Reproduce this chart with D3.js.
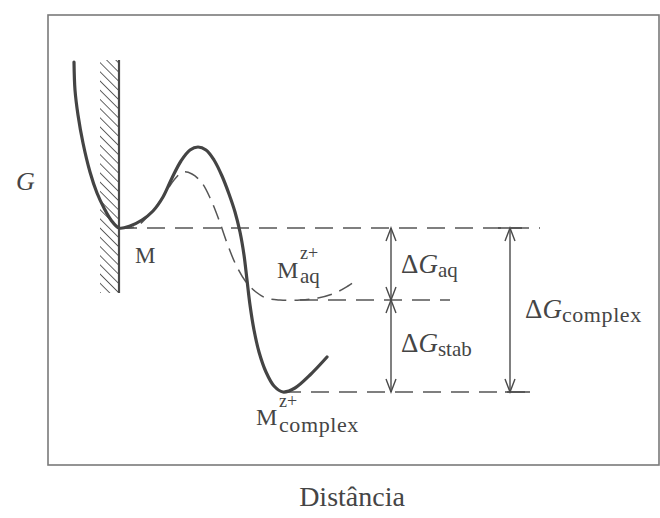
<!DOCTYPE html>
<html><head><meta charset="utf-8">
<script src="https://cdn.jsdelivr.net/npm/d3@7"></script>
<style>body{margin:0;background:#fff}svg{display:block}text{font-family:"Liberation Serif","DejaVu Serif",serif;fill:#454545}</style>
</head><body>
<script>
// Data (distance units, free-energy units; G increases upward)
const solidCurve = [[26,403],[27,375],[30,350],[35,322],[42,293],[49,272],[56,257],[63,245],[71,237],[82,239],[94,245],[105,254],[115,268],[124,287],[133,304],[142,315],[150,318],[158,315],[166,305],[174,289],[181,271],[187,253],[192,233],[196,210],[199,185],[202,160],[206,135],[211,113],[218,93],[226,79],[235,73],[247,77],[262,90],[279,108]];
const dashedCurve = [[71,237],[87,238],[102,251],[115,268],[126,285],[135,293],[144,291],[154,282],[163,265],[171,245],[179,222],[188,200],[198,183],[208,173],[218,167],[232,165],[252,165],[270,167],[287,172],[300,179],[309,185]];
const levels = {M: 237, aq: 165, complex: 73};
const levelSpans = [[71,492,"M"],[252,402,"aq"],[235,482,"complex"]];
const arrows = [[343,"M","aq"],[343,"aq","complex"],[462,"M","complex"]];
const wall = {x0:52, x1:71, yBottom:172, yTop:405};

const W=660,H=518;
const x=d3.scaleLinear().domain([0,609]).range([48,657]);
const y=d3.scaleLinear().domain([0,450]).range([465,15]);
const svg=d3.select("body").append("svg").attr("width",W).attr("height",H);
const ink="#4a4a4a";

// frame
svg.append("rect").attr("x",x(0)).attr("y",y(450)).attr("width",x(609)-x(0)+2).attr("height",y(0)-y(450))
  .attr("fill","none").attr("stroke","#7a7a7a").attr("stroke-width",1.6);

// hatched wall
const defs=svg.append("defs");
const pat=defs.append("pattern").attr("id","hatch").attr("patternUnits","userSpaceOnUse").attr("width",6.5).attr("height",6.5)
  .attr("patternTransform","rotate(-45)");
pat.append("line").attr("x1",0).attr("y1",0).attr("x2",0).attr("y2",6.5).attr("stroke",ink).attr("stroke-width",1.7);
svg.append("rect").attr("x",x(wall.x0)).attr("y",y(wall.yTop)).attr("width",x(wall.x1)-x(wall.x0)).attr("height",y(wall.yBottom)-y(wall.yTop))
  .attr("fill","url(#hatch)");
svg.append("line").attr("x1",x(wall.x1)).attr("x2",x(wall.x1)).attr("y1",y(wall.yBottom)).attr("y2",y(wall.yTop))
  .attr("stroke",ink).attr("stroke-width",2.2);

// level dashed lines
levelSpans.forEach(([a,b,k])=>{
  svg.append("line").attr("x1",x(a)).attr("x2",x(b)).attr("y1",y(levels[k])).attr("y2",y(levels[k]))
   .attr("stroke","#555").attr("stroke-width",1.5).attr("stroke-dasharray","18,10");
});

const line=d3.line().x(d=>x(d[0])).y(d=>y(d[1])).curve(d3.curveCatmullRom.alpha(0.5));
svg.append("path").attr("d",line(dashedCurve)).attr("fill","none").attr("stroke","#555").attr("stroke-width",1.5).attr("stroke-dasharray","15,8");
svg.append("path").attr("d",line(solidCurve)).attr("fill","none").attr("stroke","#444").attr("stroke-width",3.2).attr("stroke-linecap","round").attr("stroke-linejoin","round");

// arrows
function head(px,py,dir){ // dir -1 up, +1 down
  svg.append("path").attr("d",`M${px-5},${py-dir*13}L${px},${py}L${px+5},${py-dir*13}`)
   .attr("fill","none").attr("stroke",ink).attr("stroke-width",1.4);
}
arrows.forEach(([ax,a,b])=>{
  const X=x(ax),y1=y(levels[a]),y2=y(levels[b]);
  svg.append("line").attr("x1",X).attr("x2",X).attr("y1",y1).attr("y2",y2).attr("stroke",ink).attr("stroke-width",1.4);
  head(X,y1,-1);head(X,y2,1);
});
// caps on the big arrow
svg.append("line").attr("x1",x(450)).attr("x2",x(474)).attr("y1",y(levels.M)).attr("y2",y(levels.M)).attr("stroke",ink).attr("stroke-width",1.5);
svg.append("line").attr("x1",x(457)).attr("x2",x(482)).attr("y1",y(levels.complex)).attr("y2",y(levels.complex)).attr("stroke",ink).attr("stroke-width",1.5);

// labels
function lab(tx,ty,parts){
  const t=svg.append("text").attr("x",tx).attr("y",ty);
  parts.forEach(p=>{const s=t.append("tspan").text(p.t).attr("font-size",p.s||27);
    if(p.i)s.attr("font-style","italic"); if(p.dy)s.attr("dy",p.dy); if(p.ls)s.attr("letter-spacing",p.ls);});
  return t;
}
svg.append("text").attr("x",16).attr("y",190).attr("font-size",26).attr("font-style","italic").text("G");
svg.append("text").attr("x",352).attr("y",506).attr("font-size",28).attr("text-anchor","middle").text("Distância");
svg.append("text").attr("x",135).attr("y",263).attr("font-size",23).text("M");
// M aq
svg.append("text").attr("x",277).attr("y",278).attr("font-size",24).text("M");
svg.append("text").attr("x",300).attr("y",259).attr("font-size",18).text("z+");
svg.append("text").attr("x",300).attr("y",283).attr("font-size",21).text("aq");
// M complex
svg.append("text").attr("x",256).attr("y",425).attr("font-size",24).text("M");
svg.append("text").attr("x",279).attr("y",407).attr("font-size",18).text("z+");
svg.append("text").attr("x",279).attr("y",432).attr("font-size",22).attr("letter-spacing",0.6).text("complex");
// deltas
lab(401,273,[{t:"Δ"},{t:"G",i:1},{t:"aq",s:21,dy:4}]);
lab(401,352,[{t:"Δ"},{t:"G",i:1},{t:"stab",s:21,dy:4}]);
lab(525,318,[{t:"Δ"},{t:"G",i:1},{t:"complex",s:22,dy:4,ls:0.6}]);
</script>
</body></html>
